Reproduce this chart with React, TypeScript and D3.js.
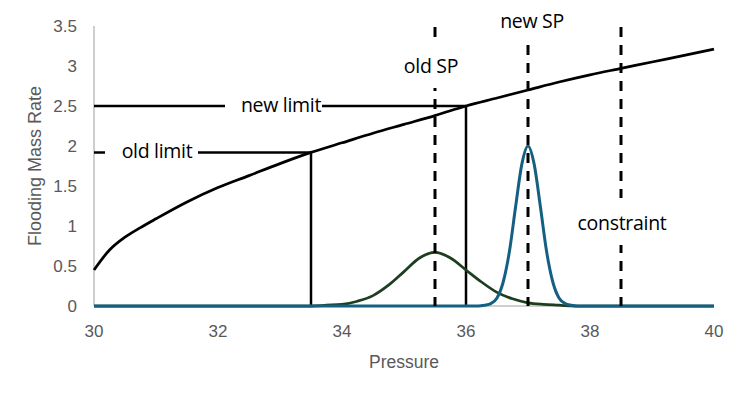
import React from "react";
import * as d3 from "d3";

// flooding curve
const curveP = [30, 30.25, 30.5, 30.75, 31, 31.5, 32, 32.5, 33, 33.5, 34, 34.5, 35, 35.5, 36, 36.5, 37, 37.5, 38, 38.5, 39, 39.5, 40];
const curveRate = [0.45, 0.7, 0.86, 0.98, 1.09, 1.3, 1.48, 1.63, 1.78, 1.92, 2.04, 2.16, 2.27, 2.38, 2.5, 2.6, 2.7, 2.8, 2.89, 2.97, 3.05, 3.13, 3.21];

// old operating distribution (green)
const oldDistP = [30, 33.5, 33.75, 34, 34.25, 34.5, 34.75, 35, 35.25, 35.5, 35.75, 36, 36.25, 36.5, 36.75, 37, 37.25, 37.5, 37.75, 40];
const oldDistVal = [0, 0, 0.01, 0.02, 0.06, 0.13, 0.26, 0.43, 0.6, 0.67, 0.6, 0.45, 0.3, 0.17, 0.09, 0.04, 0.02, 0.01, 0, 0];

// new operating distribution (blue)
const newDistP = [30, 36.2, 36.3, 36.4, 36.5, 36.6, 36.7, 36.8, 36.9, 37, 37.1, 37.2, 37.3, 37.4, 37.5, 37.6, 37.7, 37.8, 40];
const newDistVal = [0, 0, 0.01, 0.03, 0.1, 0.3, 0.68, 1.24, 1.77, 2.0, 1.77, 1.24, 0.68, 0.3, 0.1, 0.03, 0.01, 0, 0];

// limits: pressure where the curve hits the limit, and the rate
const limitNames = ["old limit", "new limit"];
const limitP = [33.5, 36];
const limitRate = [1.92, 2.5];

// setpoints / constraint (dashed verticals)
const markerNames = ["old SP", "new SP", "constraint"];
const markerP = [35.5, 37, 38.5];

const xTicks = [30, 32, 34, 36, 38, 40];
const yTicks = [0, 0.5, 1, 1.5, 2, 2.5, 3, 3.5];

const W = 737;
const H = 399;
const labelFont = "'Open Sans', sans-serif";
const axisFont = "'Liberation Sans', Arial, sans-serif";

export default function App() {
  const x = d3.scaleLinear().domain([30, 40]).range([94, 714]);
  const y = d3.scaleLinear().domain([0, 3.5]).range([306, 26]);

  const line = d3
    .line<[number, number]>()
    .x((d) => x(d[0]))
    .y((d) => y(d[1]))
    .curve(d3.curveMonotoneX);

  const curvePath = line(curveP.map((p, i) => [p, curveRate[i]]))!;
  const oldPath = line(oldDistP.map((p, i) => [p, oldDistVal[i]]))!;
  const newPath = line(newDistP.map((p, i) => [p, newDistVal[i]]))!;

  // label boxes (layout only)
  const limitBoxes = [
    { x0: 105, x1: 198, tx: 157 },
    { x0: 225, x1: 322, tx: 281 },
  ];
  const markerTop = [27, 45, 27];
  const markerLabelY = [67, 22, 224];
  const markerBox = [
    { y0: 38, y1: 88 },
    { y0: 5, y1: 42 },
    { y0: 198, y1: 245 },
  ];

  return (
    <svg
      width={W}
      height={H}
      style={{ position: "absolute", left: 0, top: 0, background: "#fff" }}
    >
      {/* axis lines */}
      <line x1={94} x2={94} y1={y(3.5)} y2={y(0)} stroke="#bfbfbf" strokeWidth={1.5} />
      <line x1={94} x2={714} y1={y(0)} y2={y(0)} stroke="#bfbfbf" strokeWidth={1.5} />

      {yTicks.map((t) => (
        <text
          key={t}
          x={77}
          y={y(t)}
          dy="0.35em"
          textAnchor="end"
          fontFamily={axisFont}
          fontSize={17}
          fill="#595959"
        >
          {t}
        </text>
      ))}
      {xTicks.map((t) => (
        <text
          key={t}
          x={x(t)}
          y={331}
          dy="0.35em"
          textAnchor="middle"
          fontFamily={axisFont}
          fontSize={17}
          fill="#595959"
        >
          {t}
        </text>
      ))}
      <text
        x={404}
        y={362}
        dy="0.35em"
        textAnchor="middle"
        fontFamily={axisFont}
        fontSize={17.5}
        fill="#595959"
      >
        Pressure
      </text>
      <text
        transform={`translate(35,166) rotate(-90)`}
        dy="0.35em"
        textAnchor="middle"
        fontFamily={axisFont}
        fontSize={18}
        fill="#595959"
      >
        Flooding Mass Rate
      </text>

      {/* limit lines */}
      {limitP.map((p, i) => (
        <g key={limitNames[i]}>
          <line x1={x(30)} x2={x(p)} y1={y(limitRate[i])} y2={y(limitRate[i])} stroke="#000" strokeWidth={2.5} />
          <line x1={x(p)} x2={x(p)} y1={y(limitRate[i])} y2={y(0)} stroke="#000" strokeWidth={2.5} />
        </g>
      ))}

      <path d={curvePath} fill="none" stroke="#000" strokeWidth={2.75} />
      <path d={oldPath} fill="none" stroke="#1d3f1f" strokeWidth={2.75} />
      <path d={newPath} fill="none" stroke="#156082" strokeWidth={3} />

      {/* dashed verticals */}
      {markerP.map((p, i) => (
        <line
          key={markerNames[i]}
          x1={x(p)}
          x2={x(p)}
          y1={markerTop[i]}
          y2={y(0)}
          stroke="#000"
          strokeWidth={3}
          strokeDasharray="10,8"
        />
      ))}

      {/* labels with white boxes */}
      {limitNames.map((n, i) => (
        <g key={n}>
          <rect
            x={limitBoxes[i].x0}
            width={limitBoxes[i].x1 - limitBoxes[i].x0}
            y={y(limitRate[i]) - 14}
            height={28}
            fill="#fff"
          />
          <text
            x={limitBoxes[i].tx}
            y={y(limitRate[i])}
            dy="0.3em"
            textAnchor="middle"
            fontFamily={labelFont}
            fontSize={19.5}
            letterSpacing={-0.3}
            fill="#000"
          >
            {n}
          </text>
        </g>
      ))}
      {markerNames.map((n, i) => (
        <g key={n}>
          <rect
            x={x(markerP[i]) - 8}
            width={16}
            y={markerBox[i].y0}
            height={markerBox[i].y1 - markerBox[i].y0}
            fill="#fff"
          />
          <text
            x={i === 0 ? 431 : x(markerP[i]) + (i === 1 ? 4 : 1)}
            y={markerLabelY[i]}
            dy="0.3em"
            textAnchor="middle"
            fontFamily={labelFont}
            fontSize={19.5}
            letterSpacing={-0.3}
            fill="#000"
          >
            {n}
          </text>
        </g>
      ))}
    </svg>
  );
}
